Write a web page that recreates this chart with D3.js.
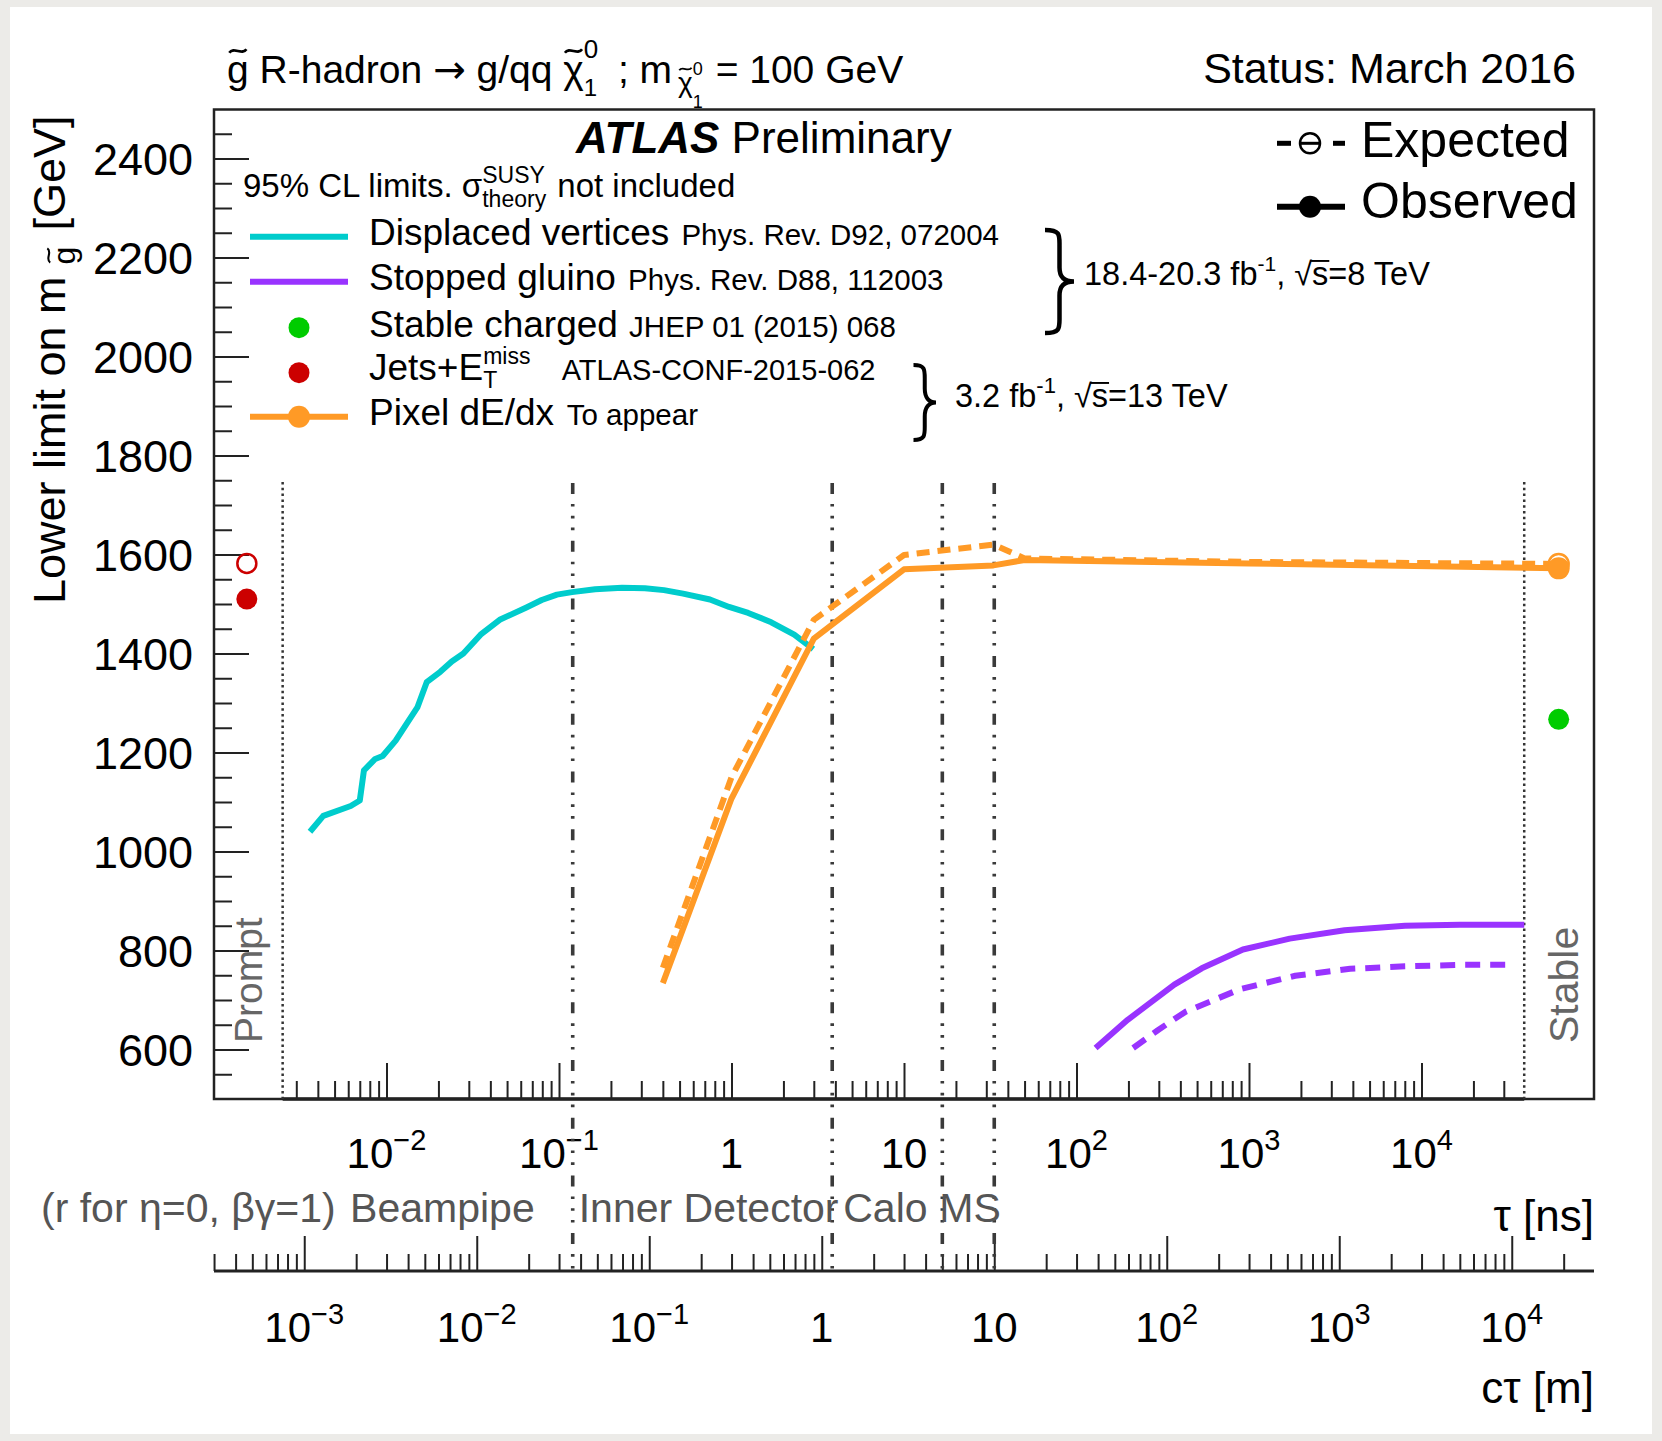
<!DOCTYPE html>
<html><head><meta charset="utf-8">
<script src="https://cdn.jsdelivr.net/npm/d3@7"></script>
<style>
html,body{margin:0;padding:0;background:#ecebe8;}
svg{display:block;}
text{font-family:"Liberation Sans",Arial,Helvetica,sans-serif;}
</style></head><body>
<svg id="c" width="1662" height="1441"></svg>
<script>
// ---------------- DATA ----------------
const C_M_PER_NS = 0.299792458;

// Displaced vertices (observed), tau [ns] vs mass [GeV]
const dvTau  = [0.0036,0.0043,0.0062,0.0070,0.0074,0.0086,0.0095,0.0113,0.0133,0.0151,0.0171,0.0205,0.0239,0.0279,0.0351,0.0453,0.0647,0.0794,0.0973,0.119,0.162,0.232,0.315,0.406,0.524,0.750,0.968,1.25,1.70,2.31,2.98];
const dvMass = [1040,1072,1092,1103,1164,1187,1193,1224,1262,1291,1342,1363,1384,1400,1438,1468,1493,1508,1519,1524,1530,1533,1532,1528,1521,1509,1494,1482,1463,1438,1409];

// Stopped gluino
const sgObsTau  = [129,198,369,532,922,1722,3584,8020,16700,39400];
const sgObsMass = [603,660,731,764,802,824,841,850,852,852];
const sgExpTau  = [213,296,427,889,1853,3857,8020,16700,33600];
const sgExpMass = [603,639,676,722,749,763,768,771,771];

// Pixel dE/dx
const pxObsTau  = [0.4,1,3,10,33,50,1000,62400];
const pxObsMass = [734,1107,1430,1570,1578,1589,1582,1572];
const pxExpTau  = [0.4,1,3,10,33,50,1000,62400];
const pxExpMass = [765,1150,1468,1599,1620,1592,1585,1581];

// Single points
const promptPointTau = 0.00155;
const stablePointTau = 62400;
const jetsObs = 1510, jetsExp = 1582;
const stableChargedObs = 1267;

// Reference lines
const promptLineTau = 0.0025, stableLineTau = 39400;
const detectorCtau = [0.036, 1.15, 5.0, 10.0]; // m
const detectorNames = ["Beampipe","Inner Detector","Calo","MS"];

// Ticks
const yMajor = [600,800,1000,1200,1400,1600,1800,2000,2200,2400];
const tauLabelExps  = [-2,-1,0,1,2,3,4];
const ctauLabelExps = [-3,-2,-1,0,1,2,3,4];

// ---------------- STYLE ----------------
const COL = {cyan:"#00cccc", purple:"#9933ff", orange:"#ff9a26", green:"#00cc00", red:"#cc0000"};
const svg = d3.select("#c");
svg.append("rect").attr("x",10).attr("y",7).attr("width",1642).attr("height",1427).attr("fill","#fff");

const x  = d3.scaleLog().domain([1e-3,1e5]).range([214,1594]);
const xc = d3.scaleLog().domain([1e-3*C_M_PER_NS,1e5*C_M_PER_NS]).range([214,1594]);
const y  = d3.scaleLinear().domain([500,2500]).range([1099,109]);

// rich text helper
function rich(parent, x0, y0, parts, opts){
  const t = parent.append("text").attr("x",x0).attr("y",y0)
    .attr("text-anchor",opts.anchor||"start").attr("font-size",opts.fs)
    .attr("fill",opts.fill||"#000");
  if(opts.weight) t.attr("font-weight",opts.weight);
  let cur = 0, idx = 0; const nodes=[];
  parts.forEach((p,i)=>{
    const s = t.append("tspan").text(p.t);
    const target = p.dy||0;
    if(target!==cur) s.attr("dy", target-cur);
    cur = target;
    if(p.fs) s.attr("font-size",p.fs);
    if(p.weight) s.attr("font-weight",p.weight);
    if(p.style) s.attr("font-style",p.style);
    if(p.family) s.attr("font-family",p.family);
    let dx = p.dx||0;
    if(p.back) dx -= nodes[i-1].node().getComputedTextLength();
    if(dx) s.attr("dx",dx);
    nodes.push(s); p._idx = idx; idx += p.t.length;
  });
  parts.forEach(p=>{
    if(!p.deco) return;
    const fsC = p.fs||opts.fs;
    const base = y0 + (p.dy||0);
    const ci = p._idx + (p.decoChar||0);
    const e = t.node().getExtentOfChar(ci);
    if(p.deco==="tilde"){
      const cx = e.x+e.width/2, cy = base - fsC*(p.tildeH||0.82);
      const w = 0.44*fsC, a = 0.075*fsC;
      const pa = d3.path();
      pa.moveTo(cx-w/2, cy+a*0.6);
      pa.bezierCurveTo(cx-w/4, cy-a*1.7, cx+w/4, cy+a*1.7, cx+w/2, cy-a*0.6);
      parent.append("path").attr("d",pa.toString()).attr("fill","none")
        .attr("stroke",opts.fill||"#000").attr("stroke-width",0.065*fsC);
    } else if(p.deco==="over"){
      const yy = base - fsC*0.74;
      parent.append("line").attr("x1",e.x-1).attr("x2",e.x+e.width+1)
        .attr("y1",yy).attr("y2",yy).attr("stroke",opts.fill||"#000").attr("stroke-width",0.06*fsC);
    }
  });
  return t;
}

// ---------------- FRAME & AXES ----------------
const frame = svg.append("g");
frame.append("rect").attr("x",214).attr("y",109.5).attr("width",1380).attr("height",989.5)
  .attr("fill","none").attr("stroke","#222").attr("stroke-width",2.5);

// Y axis
const yMinor = d3.range(550,2500,50).filter(v=>!yMajor.includes(v));
function noDomain(g){ g.select(".domain").remove(); g.selectAll("line").attr("stroke","#222").attr("stroke-width",2); }
frame.append("g").attr("transform","translate(214,0)")
  .call(d3.axisLeft(y).tickValues(yMinor).tickSize(-18).tickFormat("")).call(noDomain);
frame.append("g").attr("transform","translate(214,0)")
  .call(d3.axisLeft(y).tickValues(yMajor).tickSize(-35).tickFormat("")).call(noDomain);
yMajor.forEach(v=>{
  frame.append("text").attr("x",193).attr("y",y(v)).attr("dy","0.36em")
    .attr("text-anchor","end").attr("font-size",45).text(v);
});

// tau axis (inside frame, from Prompt to Stable)
const isMajor = v => Math.abs(Math.log10(v)-Math.round(Math.log10(v)))<1e-9;
const tauTicks = x.ticks().filter(v=>v>=promptLineTau && v<=stableLineTau);
frame.append("g").attr("transform","translate(0,1099)")
  .call(d3.axisBottom(x).tickValues(tauTicks.filter(v=>!isMajor(v))).tickSize(-18).tickFormat("")).call(noDomain);
frame.append("g").attr("transform","translate(0,1099)")
  .call(d3.axisBottom(x).tickValues(tauTicks.filter(isMajor)).tickSize(-36).tickFormat("")).call(noDomain);
frame.append("line").attr("x1",x(promptLineTau)).attr("x2",x(stableLineTau)).attr("y1",1099).attr("y2",1099)
  .attr("stroke","#222").attr("stroke-width",3.5);

// c*tau axis
const ctTicks = xc.ticks().filter(v=>v>=xc.domain()[0]*0.999 && v<=xc.domain()[1]);
frame.append("g").attr("transform","translate(0,1271)")
  .call(d3.axisBottom(xc).tickValues(ctTicks.filter(v=>!isMajor(v))).tickSize(-17).tickFormat("")).call(noDomain);
frame.append("g").attr("transform","translate(0,1271)")
  .call(d3.axisBottom(xc).tickValues(ctTicks.filter(isMajor)).tickSize(-35).tickFormat("")).call(noDomain);
frame.append("line").attr("x1",214).attr("x2",1594).attr("y1",1271).attr("y2",1271)
  .attr("stroke","#222").attr("stroke-width",3);

function powLabel(g, xpos, ypos, e){
  if(e===0) return rich(g,xpos,ypos,[{t:"1"}],{fs:42,anchor:"middle"});
  if(e===1) return rich(g,xpos,ypos,[{t:"10"}],{fs:42,anchor:"middle"});
  const s = (e<0?"\u2212":"")+Math.abs(e);
  return rich(g,xpos,ypos,[{t:"10"},{t:s,fs:29,dy:-18}],{fs:42,anchor:"middle"});
}
tauLabelExps.forEach(e=>powLabel(frame, x(Math.pow(10,e)), 1168, e));
ctauLabelExps.forEach(e=>powLabel(frame, xc(Math.pow(10,e)), 1342, e));

frame.append("text").attr("x",1594).attr("y",1231).attr("text-anchor","end").attr("font-size",44).text("\u03c4 [ns]");
frame.append("text").attr("x",1594).attr("y",1403).attr("text-anchor","end").attr("font-size",44).text("c\u03c4 [m]");

// ---------------- REFERENCE LINES ----------------
const refl = svg.append("g");
[promptLineTau, stableLineTau].forEach(t=>{
  refl.append("line").attr("x1",x(t)).attr("x2",x(t)).attr("y1",482).attr("y2",1099)
    .attr("stroke","#333").attr("stroke-width",2.5).attr("stroke-dasharray","2.5,3.3");
});
detectorCtau.forEach(ct=>{
  const xx = xc(ct);
  refl.append("line").attr("x1",xx).attr("x2",xx).attr("y1",483).attr("y2",1271)
    .attr("stroke","#3a3a3a").attr("stroke-width",3.6)
    .attr("stroke-dasharray","11,10,2.6,9.2,2.6,9.2,2.6,10.5");
});

// detector labels
const gray = "#555";
svg.append("text").attr("x",41).attr("y",1222).attr("font-size",41).attr("fill",gray)
  .text("(r for \u03b7=0, \u03b2\u03b3=1)");
const dl = detectorCtau.map(ct=>xc(ct));
svg.append("text").attr("x",dl[0]-38).attr("y",1222).attr("text-anchor","end").attr("font-size",41).attr("fill",gray).text(detectorNames[0]);
svg.append("text").attr("x",dl[0]+6).attr("y",1222).attr("font-size",41).attr("fill",gray).text(detectorNames[1]);
svg.append("text").attr("x",dl[1]+11).attr("y",1222).attr("font-size",41).attr("fill",gray).text(detectorNames[2]);
svg.append("text").attr("x",dl[2]-3).attr("y",1222).attr("font-size",41).attr("fill",gray).text(detectorNames[3]);

svg.append("text").attr("transform","translate(262,1043) rotate(-90)").attr("font-size",39).attr("fill","#666").text("Prompt");
svg.append("text").attr("transform","translate(1578,1043) rotate(-90)").attr("font-size",41).attr("fill","#666").text("Stable");

// ---------------- CURVES ----------------
const line = d3.line().x(d=>x(d[0])).y(d=>y(d[1]));
const curves = svg.append("g").attr("fill","none").attr("stroke-linejoin","round");
function drawCurve(taus, masses, color, dash){
  const p = curves.append("path").datum(d3.zip(taus,masses)).attr("d",line)
    .attr("stroke",color).attr("stroke-width",6);
  if(dash) p.attr("stroke-dasharray",dash);
}
drawCurve(dvTau, dvMass, COL.cyan);
drawCurve(sgExpTau, sgExpMass, COL.purple, "15,10");
drawCurve(sgObsTau, sgObsMass, COL.purple);
drawCurve(pxExpTau, pxExpMass, COL.orange, "13,8");
drawCurve(pxObsTau, pxObsMass, COL.orange);

// markers
const mk = svg.append("g");
mk.append("circle").attr("cx",x(promptPointTau)).attr("cy",y(jetsExp)).attr("r",9.5)
  .attr("fill","none").attr("stroke",COL.red).attr("stroke-width",2.5);
mk.append("circle").attr("cx",x(promptPointTau)).attr("cy",y(jetsObs)).attr("r",10.5).attr("fill",COL.red);
mk.append("circle").attr("cx",x(stablePointTau)).attr("cy",y(stableChargedObs)).attr("r",10.5).attr("fill",COL.green);
mk.append("circle").attr("cx",x(stablePointTau)).attr("cy",y(pxExpMass[pxExpMass.length-1])).attr("r",10)
  .attr("fill","none").attr("stroke",COL.orange).attr("stroke-width",2.5);
mk.append("circle").attr("cx",x(stablePointTau)).attr("cy",y(pxObsMass[pxObsMass.length-1])).attr("r",11).attr("fill",COL.orange);

// ---------------- TEXT / LEGEND ----------------
const T = svg.append("g");
rich(T, 227, 83, [
  {t:"g", deco:"tilde"},
  {t:" R-hadron "},
  {t:"\u2192", family:"DejaVu Sans"},
  {t:" g/qq "},
  {t:"\u03c7", deco:"tilde"},
  {t:"0", fs:26, dy:-25},
  {t:"1", fs:24, dy:13, back:true},
  {t:" ; m", dx:10},
  {t:"\u03c7", fs:28, dy:9, dx:6, deco:"tilde"},
  {t:"0", fs:18, dy:-8},
  {t:"1", fs:18, dy:25, back:true},
  {t:" = 100 GeV", dx:2}
], {fs:39});
T.append("text").attr("x",1576).attr("y",83).attr("text-anchor","end").attr("font-size",43).text("Status: March 2016");

// y-axis title
const yt = svg.append("g").attr("transform","translate(65,604) rotate(-90)");
rich(yt, 0, 0, [
  {t:"Lower limit on m"},
  {t:"g", fs:32, dy:10, dx:12, deco:"tilde"},
  {t:"[GeV]", dx:16}
], {fs:45});

// ATLAS Preliminary
rich(T, 576, 153, [
  {t:"ATLAS", weight:"bold", style:"italic"},
  {t:" Preliminary"}
], {fs:44});

rich(T, 243, 197, [
  {t:"95% CL limits. \u03c3"},
  {t:"SUSY", fs:23, dy:-14},
  {t:"theory", fs:23, dy:10, back:true},
  {t:" not included", dy:0, dx:2}
], {fs:33});

// legend lines
const L = svg.append("g");
const legX1 = 250, legX2 = 348, legXm = 299;
L.append("line").attr("x1",legX1).attr("x2",legX2).attr("y1",236.7).attr("y2",236.7).attr("stroke",COL.cyan).attr("stroke-width",6);
L.append("line").attr("x1",legX1).attr("x2",legX2).attr("y1",281.7).attr("y2",281.7).attr("stroke",COL.purple).attr("stroke-width",6);
L.append("circle").attr("cx",legXm).attr("cy",327.7).attr("r",10.5).attr("fill",COL.green);
L.append("circle").attr("cx",legXm).attr("cy",372.7).attr("r",10.5).attr("fill",COL.red);
L.append("line").attr("x1",legX1).attr("x2",legX2).attr("y1",416.7).attr("y2",416.7).attr("stroke",COL.orange).attr("stroke-width",6);
L.append("circle").attr("cx",legXm).attr("cy",416.7).attr("r",11).attr("fill",COL.orange);

rich(L, 369, 245, [{t:"Displaced vertices"},{t:" Phys. Rev. D92, 072004", fs:29.5, dx:4}], {fs:37});
rich(L, 369, 290, [{t:"Stopped gluino"},{t:" Phys. Rev. D88, 112003", fs:29.5, dx:4}], {fs:37});
rich(L, 369, 337, [{t:"Stable charged"},{t:" JHEP 01 (2015) 068", fs:29.5, dx:3}], {fs:37});
rich(L, 369, 380, [{t:"Jets+E"},{t:"miss", fs:23, dy:-16},{t:"T", fs:23, dy:8, back:true},
  {t:" ATLAS-CONF-2015-062", fs:29, dy:0, dx:58}], {fs:37});
rich(L, 369, 425, [{t:"Pixel dE/dx"},{t:" To appear", fs:29.5, dx:5}], {fs:37});

// braces
function brace(x0,x1,y0,y1){
  const xm=(x0+x1)/2, ym=(y0+y1)/2, p=d3.path();
  p.moveTo(x0,y0);
  p.bezierCurveTo(xm+1,y0,xm,y0+5,xm,y0+16);
  p.lineTo(xm,ym-14);
  p.bezierCurveTo(xm,ym-5,xm+4,ym,x1,ym);
  p.bezierCurveTo(xm+4,ym,xm,ym+5,xm,ym+14);
  p.lineTo(xm,y1-16);
  p.bezierCurveTo(xm,y1-5,xm+1,y1,x0,y1);
  return p.toString();
}
L.append("path").attr("d",brace(1045,1074,230,333)).attr("fill","none").attr("stroke","#000").attr("stroke-width",4.5);
L.append("path").attr("d",brace(913.5,936,365,440)).attr("fill","none").attr("stroke","#000").attr("stroke-width",4);

rich(L, 1084, 285, [{t:"18.4-20.3 fb"},{t:"-1",fs:21,dy:-14},{t:", \u221a",dy:0},{t:"s",deco:"over"},{t:"=8 TeV"}], {fs:32.5});
rich(L, 955, 407, [{t:"3.2 fb"},{t:"-1",fs:22,dy:-14},{t:", \u221a",dy:0},{t:"s",deco:"over"},{t:"=13 TeV"}], {fs:32.5});

// Expected / Observed legend
L.append("line").attr("x1",1277).attr("x2",1291).attr("y1",143.3).attr("y2",143.3).attr("stroke","#000").attr("stroke-width",5);
L.append("line").attr("x1",1333).attr("x2",1345).attr("y1",143.3).attr("y2",143.3).attr("stroke","#000").attr("stroke-width",5);
L.append("circle").attr("cx",1310).attr("cy",143.3).attr("r",10).attr("fill","none").attr("stroke","#000").attr("stroke-width",2.5);
L.append("line").attr("x1",1301).attr("x2",1319).attr("y1",143.3).attr("y2",143.3).attr("stroke","#000").attr("stroke-width",3);
L.append("line").attr("x1",1277).attr("x2",1345).attr("y1",206.7).attr("y2",206.7).attr("stroke","#000").attr("stroke-width",6);
L.append("circle").attr("cx",1310).attr("cy",206.7).attr("r",11).attr("fill","#000");
L.append("text").attr("x",1361).attr("y",157).attr("font-size",50).text("Expected");
L.append("text").attr("x",1361).attr("y",218).attr("font-size",50).text("Observed");
</script>
</body></html>
